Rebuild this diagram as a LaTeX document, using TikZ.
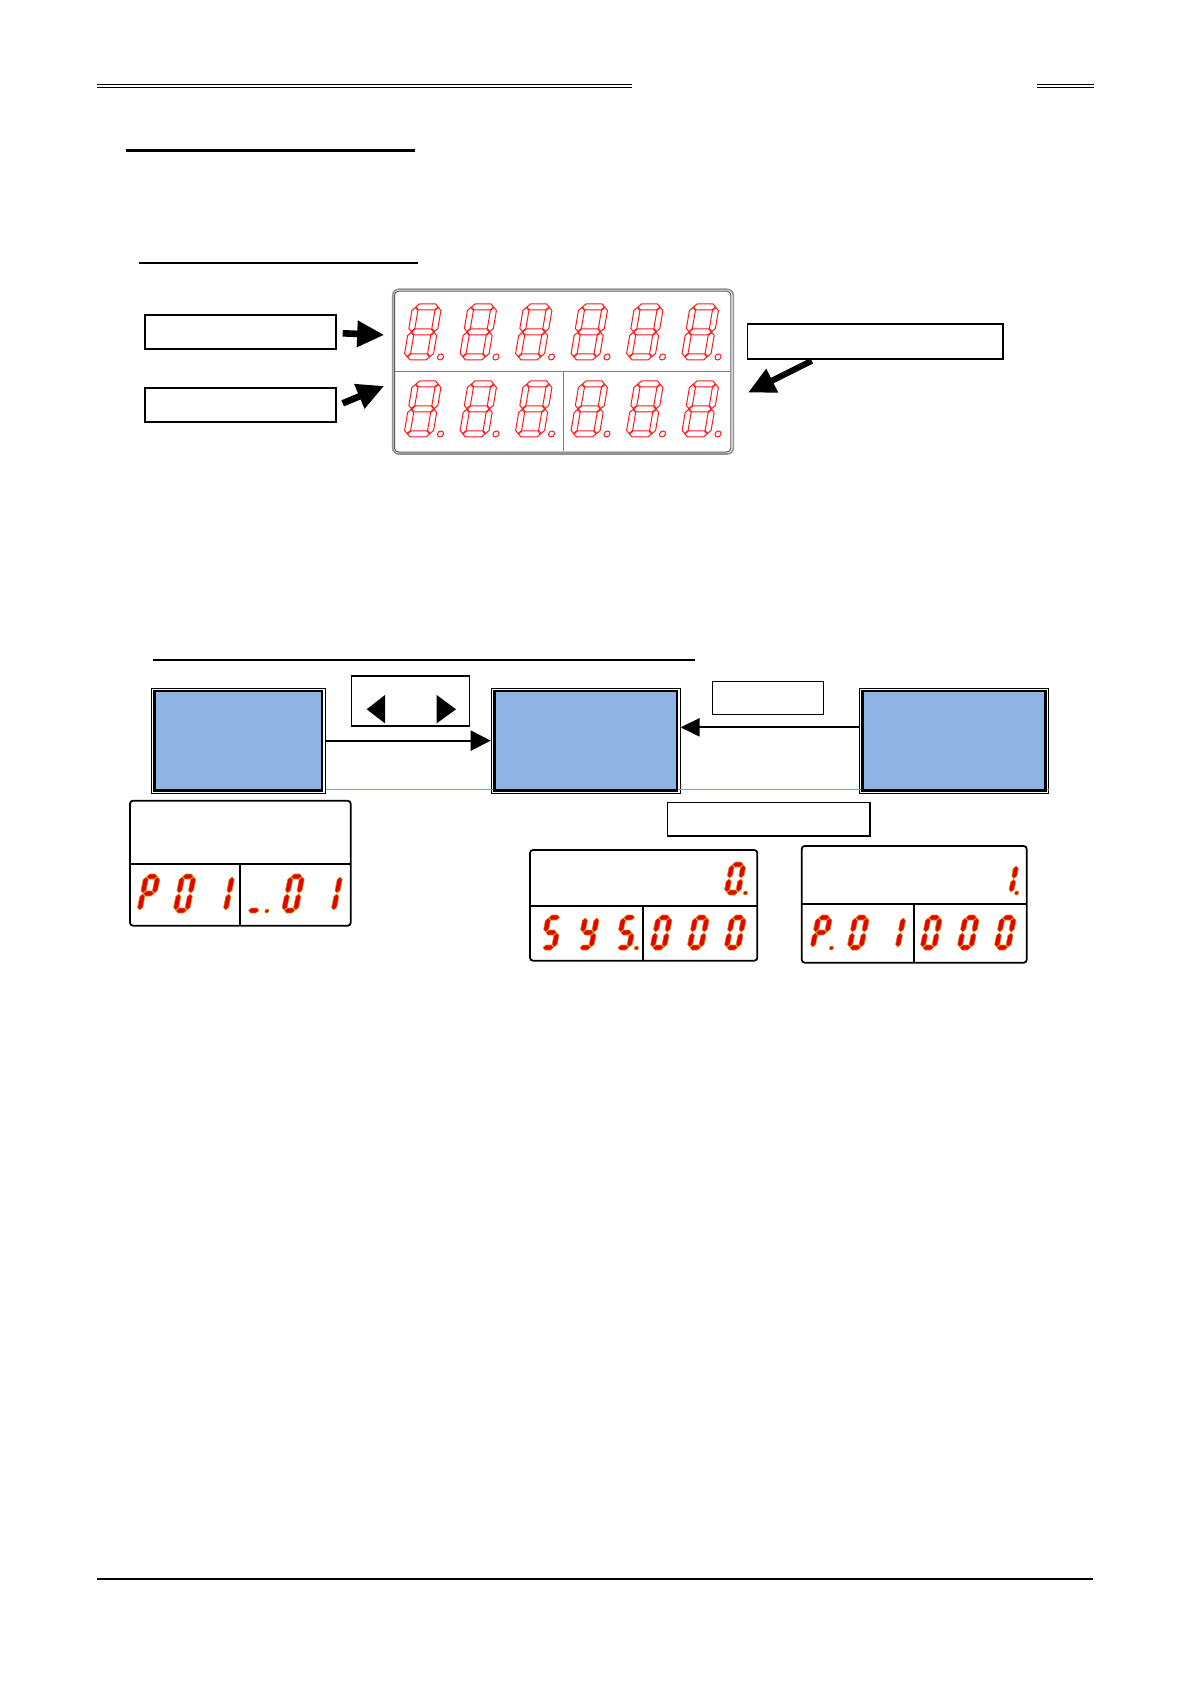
\documentclass[tikz,border=0pt]{standalone}
\usetikzlibrary{arrows.meta,calc,fit}
\definecolor{segred}{RGB}{255,25,25}
\definecolor{fillred}{RGB}{232,0,0}
\definecolor{segedge}{RGB}{205,145,20}
\definecolor{boxblue}{RGB}{141,180,226}
\definecolor{thinblue}{RGB}{125,165,200}
\definecolor{panelgray}{RGB}{128,128,128}
% seven-segment digit helpers
\newcommand\SSset[6]{\def\SSW{#1}\def\SSH{#2}\def\SST{#3}\def\SSsl{#4}\def\SSD{#5}\def\SSR{#6}}
\def\SSG{0.5}
\def\SShseg#1{\path[segsty] (\SSG,#1) -- ({\SSG+\SST/2},{#1+\SST/2}) -- ({\SSW-\SSG-\SST/2},{#1+\SST/2}) -- ({\SSW-\SSG},#1) -- ({\SSW-\SSG-\SST/2},{#1-\SST/2}) -- ({\SSG+\SST/2},{#1-\SST/2}) -- cycle;}
\def\SSvseg#1#2#3{\path[segsty] (#1,{#2+\SSG}) -- ({#1+\SST/2},{#2+\SSG+\SST/2}) -- ({#1+\SST/2},{#3-\SSG-\SST/2}) -- (#1,{#3-\SSG}) -- ({#1-\SST/2},{#3-\SSG-\SST/2}) -- ({#1-\SST/2},{#2+\SSG+\SST/2}) -- cycle;}
\def\SSa{\SShseg{\SSH}}
\def\SSb{\SSvseg{\SSW}{\SSH/2}{\SSH}}
\def\SSc{\SSvseg{\SSW}{0}{\SSH/2}}
\def\SSd{\SShseg{0}}
\def\SSe{\SSvseg{0}{0}{\SSH/2}}
\def\SSf{\SSvseg{0}{\SSH/2}{\SSH}}
\def\SSg{\SShseg{\SSH/2}}
\def\SSp{\path[dpsty] ({\SSW+\SSD},{\SSR-\SST/2}) circle[radius=\SSR];}
\newcommand\SSdig[3]{\begin{scope}[shift={(#1,#2)}, xslant=\SSsl, x=0.5pt, y=0.5pt]\foreach \s in {#3}{\csname SS\s\endcsname}\end{scope}}
\begin{document}
\begin{tikzpicture}[x=0.5pt,y=-0.5pt,
  hline/.style={line width=0.5pt},
  lblbox/.style={draw, line width=1pt, inner sep=0pt},
  thinbox/.style={draw, line width=0.6pt, inner sep=0pt},
  fatarrow/.style={line width=3.3pt, -{Triangle[length=13.5pt,width=12.5pt]}},
  flowouter/.style={draw, line width=0.5pt, inner sep=0pt},
  flowinner/.style={draw, line width=1.3pt, fill=boxblue},
  flowarrow/.style={line width=1pt},
  disp/.style={draw, line width=0.9pt, rounded corners=1.5pt, inner sep=0pt},
  divline/.style={line width=0.9pt}]
\useasboundingbox (0,0) rectangle (1191,1684);
\fill[white] (0,0) rectangle (1191,1684);

% header / section rules
\draw[hline] (97,85) -- (632,85);
\draw[hline] (97,87.7) -- (632,87.7);
\draw[hline] (1037,85) -- (1094,85);
\draw[hline] (1037,87.7) -- (1094,87.7);
\draw[line width=1.5pt] (125.5,150.5) -- (415,150.5);
\draw[line width=1pt] (139,262.7) -- (417.7,262.7);
\draw[line width=1pt] (153,660) -- (695,660);
\draw[line width=0.8pt] (97,1579) -- (1093,1579);

% display panel
\node[fit={(392.7,289.3)(733.3,454)}, draw=panelgray!85, line width=0.8pt, rounded corners=3pt, inner sep=0pt] (panel) {};
\draw[black!65, line width=0.5pt, rounded corners=2pt] ($(panel.north west)+(2.6,2.7)$) rectangle ($(panel.south east)-(3.3,2.7)$);
\draw[panelgray, line width=0.5pt] (395.3,371.7) -- (730,371.7);
\draw[panelgray, line width=0.5pt] (563,371.7) -- (563,451.3);
\SSset{23}{50}{6}{0.17}{10.5}{3}
\tikzset{segsty/.style={draw=segred,line width=0.5pt,fill=white},
         dpsty/.style={draw=segred,line width=0.5pt,fill=white}}
\foreach \k in {0,...,5}{
  \SSdig{407+55.5*\k}{357}{a,b,c,d,e,f,g,p}
  \SSdig{407+55.5*\k}{434}{a,b,c,d,e,f,g,p}
}

% label boxes and fat arrows
\node[lblbox, fit={(145.3,314.7)(336,349.3)}] (L1) {};
\node[lblbox, fit={(145.3,387.7)(336,422)}] (L2) {};
\node[lblbox, line width=0.8pt, fit={(747.3,324.3)(1002.7,359)}] (R1) {};
\coordinate (t1) at ($(L1.east)+(5.7,1.3)$);
\coordinate (h1) at ($(panel.west)+(-7.7,-36.7)$);
\coordinate (t2) at ($(L2.east)+(5.7,-1.5)$);
\coordinate (h2) at ($(panel.west)+(-7.7,14.3)$);
\coordinate (t3) at ($(R1.south)+(-63.3,1)$);
\coordinate (h3) at ($(panel.east)+(14,21)$);
\draw[fatarrow] (t1) -- (h1);
\draw[fatarrow] (t2) -- (h2);
\draw[fatarrow, line width=3pt] (t3) -- (h3);

% flow boxes
\node[flowouter, fit={(151.5,688)(325,793.3)}] (b1) {};
\node[flowouter, fit={(491.2,688)(680,793.3)}] (b2) {};
\node[flowouter, fit={(859.3,688)(1048.3,793.3)}] (b3) {};
\draw[thinblue, line width=0.6pt] ($(b1.south east)+(0,-4.3)$) -- ($(b3.south east)+(0,-4.3)$);
\foreach \b in {b1,b2,b3}{
  \draw[flowinner] ($(\b.north west)+(3.5,3.5)$) rectangle ($(\b.south east)-(3.5,3.5)$);
}
\draw[flowarrow, -{Triangle[length=10pt,width=10pt]}] (b1.east) -- (b2.west);
\draw[flowarrow, -{Triangle[length=9.5pt,width=9pt]}] ($(b3.west)+(0,-13.3)$) -- ($(b2.east)+(0,-13.3)$);

\node[thinbox, fit={(351.3,676)(469.3,726)}] (tb) {};
\fill (366.7,709.3) -- (385,695) -- (385,723.3) -- cycle;
\fill (436.7,695) -- (436.7,723.3) -- (456,709.3) -- cycle;
\node[thinbox, fit={(712.3,681.3)(823.7,714.3)}] (lb2) {};
\node[thinbox, fit={(667.3,802.7)(870,836)}] (lb3) {};

% small displays
\node[disp, fit={(130,800.7)(350.7,925.7)}] (d1) {};
\draw[divline] (130,864) -- (350.7,864);
\draw[divline] (240,864) -- (240,925.7);
\node[disp, fit={(530,850)(757.3,960.7)}] (d2) {};
\draw[divline] (530,905.7) -- (757.3,905.7);
\draw[divline] (643.3,905.7) -- (643.3,960.7);
\node[disp, fit={(801.7,846)(1026.7,962.7)}] (d3) {};
\draw[divline] (801.7,904.3) -- (1026.7,904.3);
\draw[divline] (914,904.3) -- (914,962.7);

\tikzset{segsty/.style={fill=fillred,draw=segedge,line width=0.3pt},
         dpsty/.style={fill=fillred,draw=segedge,line width=0.3pt}}
\SSset{11.5}{34}{5}{0.2}{7.5}{2}
\SSdig{139.5}{910.5}{a,b,e,f,g}
\SSdig{175.5}{910.5}{a,b,c,d,e,f}
\SSdig{214}{910.5}{b,c}
\SSdig{248}{910.5}{d,p}
\SSdig{284}{910.5}{a,b,c,d,e,f}
\SSdig{322}{910.5}{b,c}

\SSset{11.5}{30}{5}{0.2}{7.5}{2}
\SSdig{542.5}{947.5}{a,f,g,c,d}
\SSdig{579.5}{947.5}{b,c,d,f,g}
\SSdig{617.5}{947.5}{a,f,g,c,d,p}
\SSdig{652.5}{947.5}{a,b,c,d,e,f}
\SSdig{689.5}{947.5}{a,b,c,d,e,f}
\SSdig{726.5}{947.5}{a,b,c,d,e,f}
\SSdig{812.5}{947.5}{a,b,e,f,g,p}
\SSdig{849.5}{947.5}{a,b,c,d,e,f}
\SSdig{886}{947.5}{b,c}
\SSdig{922.5}{947.5}{a,b,c,d,e,f}
\SSdig{959.5}{947.5}{a,b,c,d,e,f}
\SSdig{996.5}{947.5}{a,b,c,d,e,f}

\SSset{11.5}{28}{5}{0.2}{7.5}{2}
\SSdig{726.5}{892.5}{a,b,c,d,e,f,p}
\SSset{11.5}{27}{5}{0.2}{5.7}{2}
\SSdig{999.5}{892.5}{b,c,p}
\end{tikzpicture}
\end{document}
